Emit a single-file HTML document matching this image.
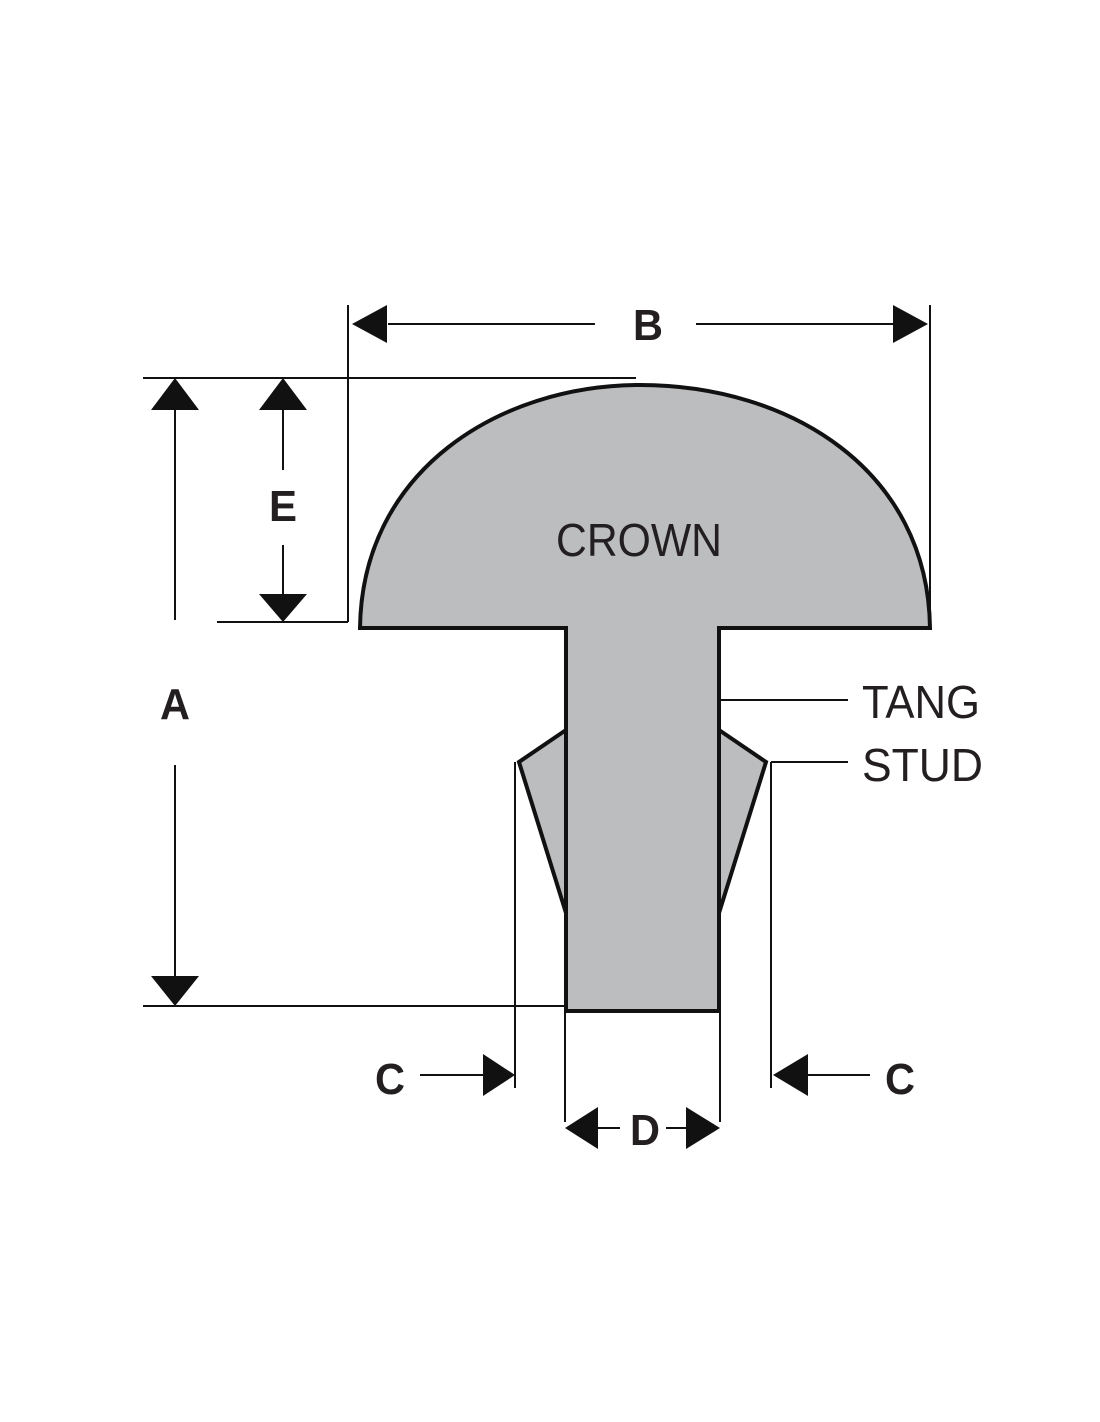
<!DOCTYPE html>
<html><head><style>html,body{margin:0;padding:0;background:#fff}svg{display:block}</style></head>
<body>
<svg width="1100" height="1422" viewBox="0 0 1100 1422" xmlns="http://www.w3.org/2000/svg">
<g fill="#bcbdbf" stroke="#111" stroke-width="4" stroke-linejoin="miter">
<path d="M566,730 L519,762 L566,913 Z"/>
<path d="M719,730 L766,762 L719,913 Z"/>
<path d="M360,628 C362,470 500,385 640,385 C790,385 928,470 930,628 L719,628 L719,1011 L566,1011 L566,628 Z"/>
</g>
<g stroke="#111" stroke-width="2" fill="none">
<line x1="348" y1="305" x2="348" y2="622"/>
<line x1="930" y1="305" x2="930" y2="622"/>
<line x1="143" y1="378" x2="636" y2="378"/>
<line x1="217" y1="622" x2="348" y2="622"/>
<line x1="143" y1="1006" x2="566" y2="1006"/>
<line x1="388" y1="324" x2="595" y2="324"/>
<line x1="696" y1="324" x2="893" y2="324"/>
<line x1="175" y1="405" x2="175" y2="620"/>
<line x1="175" y1="765" x2="175" y2="980"/>
<line x1="283" y1="405" x2="283" y2="470"/>
<line x1="283" y1="545" x2="283" y2="597"/>
<line x1="515" y1="762" x2="515" y2="1088"/>
<line x1="771" y1="762" x2="771" y2="1088"/>
<line x1="420" y1="1075" x2="484" y2="1075"/>
<line x1="806" y1="1075" x2="870" y2="1075"/>
<line x1="565" y1="1011" x2="565" y2="1122"/>
<line x1="720" y1="1011" x2="720" y2="1122"/>
<line x1="598" y1="1128" x2="620" y2="1128"/>
<line x1="666" y1="1128" x2="686" y2="1128"/>
<line x1="719" y1="700" x2="848" y2="700"/>
<line x1="771" y1="762" x2="848" y2="762"/>
</g>
<g fill="#111">
<polygon points="352,324 387,305 387,343"/>
<polygon points="928,324 893,305 893,343"/>
<polygon points="175,378 151,410 199,410"/>
<polygon points="175,1006 151,976 199,976"/>
<polygon points="283,378 259,410 307,410"/>
<polygon points="283,622 259,594 307,594"/>
<polygon points="515,1075 483,1054 483,1096"/>
<polygon points="773,1075 808,1054 808,1096"/>
<polygon points="565,1128 598,1107 598,1149"/>
<polygon points="720,1128 686,1107 686,1149"/>
</g>
<g font-family="'Liberation Sans',sans-serif" font-weight="bold" font-size="44" fill="#231f20">
<text x="633" y="340" textLength="30" lengthAdjust="spacingAndGlyphs">B</text>
<text x="269" y="521" textLength="28" lengthAdjust="spacingAndGlyphs">E</text>
<text x="160" y="719" textLength="30" lengthAdjust="spacingAndGlyphs">A</text>
<text x="375" y="1094" textLength="30" lengthAdjust="spacingAndGlyphs">C</text>
<text x="885" y="1094" textLength="30" lengthAdjust="spacingAndGlyphs">C</text>
<text x="630" y="1145" textLength="30" lengthAdjust="spacingAndGlyphs">D</text>
</g>
<g font-family="'Liberation Sans',sans-serif" font-size="46" fill="#231f20">
<text x="556" y="556" textLength="166" lengthAdjust="spacingAndGlyphs">CROWN</text>
<text x="862" y="718" textLength="118" lengthAdjust="spacingAndGlyphs">TANG</text>
<text x="862" y="781" textLength="121" lengthAdjust="spacingAndGlyphs">STUD</text>
</g>
</svg>
</body></html>
